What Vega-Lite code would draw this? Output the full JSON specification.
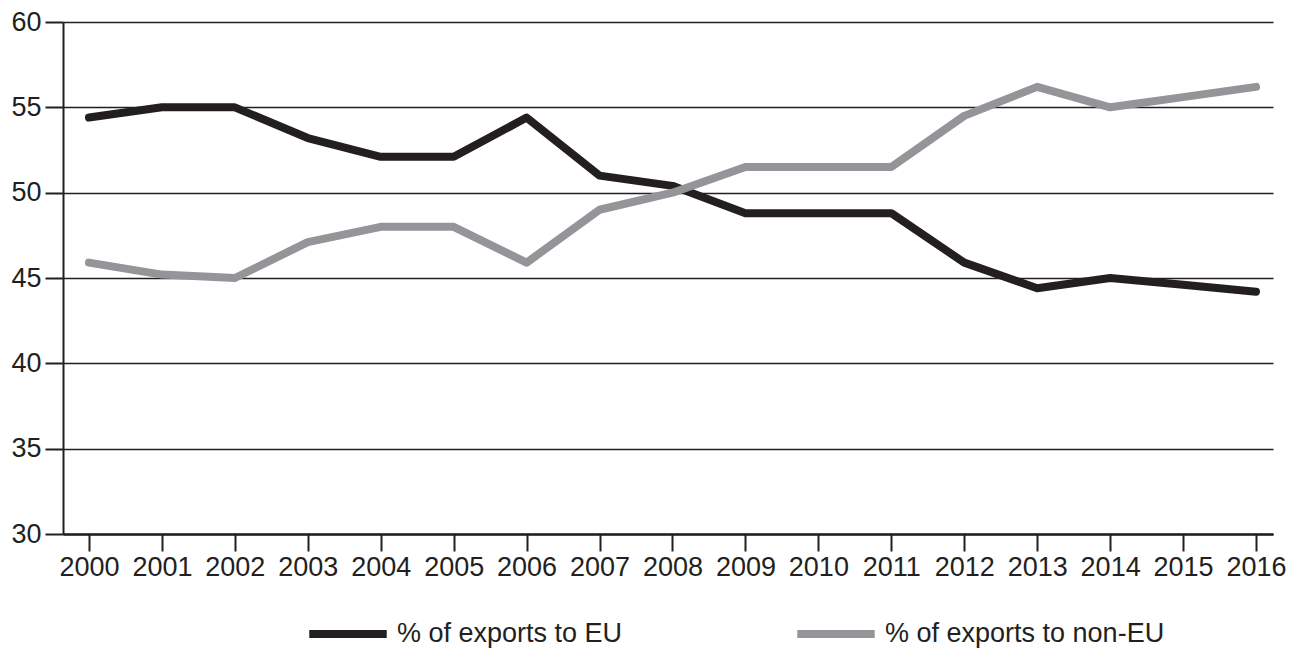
{
  "$schema": "https://vega.github.io/schema/vega-lite/v6.json",
  "autosize": {"type": "none"},
  "padding": {"left": 63, "top": 22, "right": 27, "bottom": 114},
  "width": 1210,
  "height": 512,
  "background": "white",
  "config": {
    "view": {"stroke": null},
    "font": "Liberation Sans"
  },
  "data": {
    "values": [
      {"year": 2000, "series": "% of exports to EU", "value": 54.4},
      {"year": 2001, "series": "% of exports to EU", "value": 55.0},
      {"year": 2002, "series": "% of exports to EU", "value": 55.0},
      {"year": 2003, "series": "% of exports to EU", "value": 53.2},
      {"year": 2004, "series": "% of exports to EU", "value": 52.1},
      {"year": 2005, "series": "% of exports to EU", "value": 52.1},
      {"year": 2006, "series": "% of exports to EU", "value": 54.4},
      {"year": 2007, "series": "% of exports to EU", "value": 51.0},
      {"year": 2008, "series": "% of exports to EU", "value": 50.4},
      {"year": 2009, "series": "% of exports to EU", "value": 48.8},
      {"year": 2010, "series": "% of exports to EU", "value": 48.8},
      {"year": 2011, "series": "% of exports to EU", "value": 48.8},
      {"year": 2012, "series": "% of exports to EU", "value": 45.9},
      {"year": 2013, "series": "% of exports to EU", "value": 44.4},
      {"year": 2014, "series": "% of exports to EU", "value": 45.0},
      {"year": 2015, "series": "% of exports to EU", "value": 44.6},
      {"year": 2016, "series": "% of exports to EU", "value": 44.2},
      {"year": 2000, "series": "% of exports to non-EU", "value": 45.9},
      {"year": 2001, "series": "% of exports to non-EU", "value": 45.2},
      {"year": 2002, "series": "% of exports to non-EU", "value": 45.0},
      {"year": 2003, "series": "% of exports to non-EU", "value": 47.1},
      {"year": 2004, "series": "% of exports to non-EU", "value": 48.0},
      {"year": 2005, "series": "% of exports to non-EU", "value": 48.0},
      {"year": 2006, "series": "% of exports to non-EU", "value": 45.9},
      {"year": 2007, "series": "% of exports to non-EU", "value": 49.0},
      {"year": 2008, "series": "% of exports to non-EU", "value": 50.0},
      {"year": 2009, "series": "% of exports to non-EU", "value": 51.5},
      {"year": 2010, "series": "% of exports to non-EU", "value": 51.5},
      {"year": 2011, "series": "% of exports to non-EU", "value": 51.5},
      {"year": 2012, "series": "% of exports to non-EU", "value": 54.5},
      {"year": 2013, "series": "% of exports to non-EU", "value": 56.2},
      {"year": 2014, "series": "% of exports to non-EU", "value": 55.0},
      {"year": 2015, "series": "% of exports to non-EU", "value": 55.6},
      {"year": 2016, "series": "% of exports to non-EU", "value": 56.2}
    ]
  },
  "mark": {"type": "line", "strokeWidth": 8, "strokeCap": "round", "strokeJoin": "round"},
  "encoding": {
    "x": {
      "field": "year",
      "type": "quantitative",
      "scale": {"domain": [1999.644, 2016.233], "nice": false, "zero": false},
      "axis": {
        "title": null,
        "values": [2000, 2001, 2002, 2003, 2004, 2005, 2006, 2007, 2008, 2009, 2010, 2011, 2012, 2013, 2014, 2015, 2016],
        "format": "d",
        "grid": false,
        "domainColor": "#231f20",
        "domainWidth": 2.5,
        "tickColor": "#231f20",
        "tickWidth": 2,
        "tickSize": 17,
        "labelFontSize": 27,
        "labelColor": "#231f20",
        "labelPadding": 3,
        "labelFlush": false,
        "labelOverlap": false
      }
    },
    "y": {
      "field": "value",
      "type": "quantitative",
      "scale": {"domain": [30, 60], "nice": false, "zero": false},
      "axis": {
        "title": null,
        "values": [30, 35, 40, 45, 50, 55, 60],
        "grid": true,
        "gridColor": "#231f20",
        "gridWidth": 1.5,
        "gridOpacity": 1,
        "domainColor": "#231f20",
        "domainWidth": 2,
        "tickColor": "#231f20",
        "tickWidth": 2,
        "tickSize": 18,
        "labelFontSize": 27,
        "labelColor": "#231f20",
        "labelPadding": 4
      }
    },
    "color": {
      "field": "series",
      "type": "nominal",
      "scale": {"domain": ["% of exports to EU", "% of exports to non-EU"], "range": ["#231f20", "#939598"]},
      "legend": {
        "title": null,
        "orient": "none",
        "legendX": 242,
        "legendY": 569,
        "direction": "horizontal",
        "symbolType": "stroke",
        "symbolSize": 6000,
        "symbolStrokeWidth": 8,
        "labelFontSize": 27,
        "labelColor": "#231f20",
        "labelOffset": 6,
        "labelLimit": 400,
        "columnPadding": 158
      }
    }
  }
}
